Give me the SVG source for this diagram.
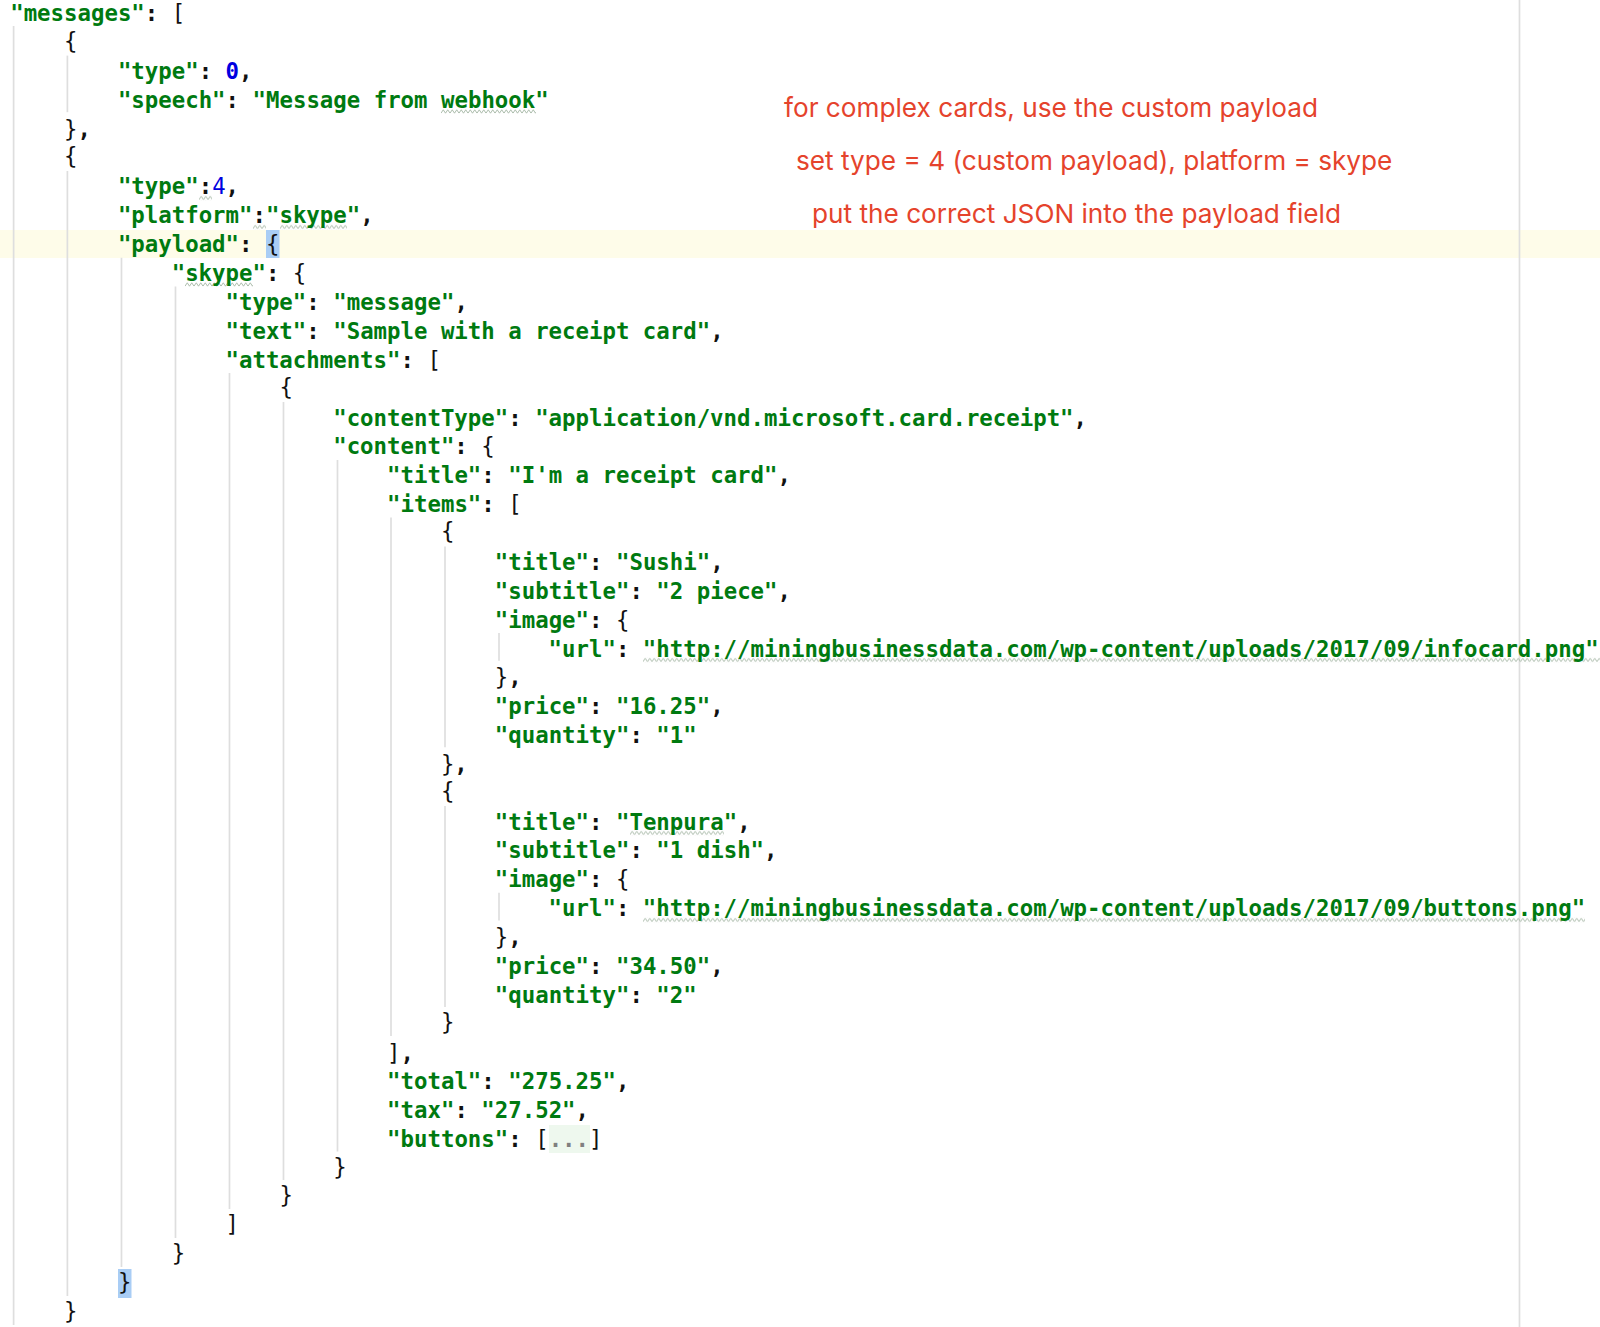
<svg xmlns="http://www.w3.org/2000/svg" width="1600" height="1327" viewBox="0 0 1600 1327">
<style>
text{white-space:pre}
text.b{transform:translateY(-1.5px)}
.c{font-family:"DejaVu Sans Mono","Liberation Mono",monospace;font-size:22.36px;fill:#111}
.k{font-weight:bold;fill:#007a10}
.p{font-weight:bold;fill:#111}
.b{fill:#111}
.n{fill:#0000e0}
.g{fill:#808080;font-weight:bold}
.a{font-family:Inter,"Liberation Sans",Arial,sans-serif;font-size:26.2px;fill:#e5432c}
.guide line{stroke:#dedede;stroke-width:1.7}
.sq{fill:url(#zig)}
</style>
<defs>
<pattern id="zig" width="9" height="5" patternUnits="userSpaceOnUse">
<path d="M0 4.2 L2.25 0.8 L4.5 4.2 L6.75 0.8 L9 4.2" fill="none" stroke="#a3b5a3" stroke-width="0.9"/>
</pattern>
</defs>
<rect width="1600" height="1327" fill="#fff"/>
<g id="highlights">
<rect x="0" y="230" width="1600" height="28" fill="#fefce9"/>
<rect x="266" y="230" width="13.5" height="28" fill="#a9cdf5"/>
<rect x="118" y="1269" width="13.5" height="29" fill="#a9cdf5"/>
<rect x="549" y="1125" width="41" height="28" fill="#eef8ee"/>
</g>
<g id="guides" class="guide">
<line x1="1519.5" y1="0" x2="1519.5" y2="1327"/>
<line x1="13.6" y1="26" x2="13.6" y2="1325"/>
<line x1="67.4" y1="55.6" x2="67.4" y2="112.2"/>
<line x1="67.4" y1="171" x2="67.4" y2="1296"/>
<line x1="121.5" y1="257.7" x2="121.5" y2="1267"/>
<line x1="175.5" y1="286.5" x2="175.5" y2="1238"/>
<line x1="229.5" y1="373" x2="229.5" y2="1209"/>
<line x1="283.5" y1="402" x2="283.5" y2="1180"/>
<line x1="337.5" y1="460" x2="337.5" y2="1151.5"/>
<line x1="391" y1="517.5" x2="391" y2="1036"/>
<line x1="445" y1="546.4" x2="445" y2="747.3"/>
<line x1="445" y1="806" x2="445" y2="1007"/>
<line x1="499" y1="633" x2="499" y2="660.7"/>
<line x1="499" y1="892.8" x2="499" y2="920.5"/>
</g>
<g id="squiggles">
<rect class="sq" transform="translate(441,109)" width="95" height="5"/>
<rect class="sq" transform="translate(199,195.5)" width="13" height="5"/>
<rect class="sq" transform="translate(253,224.5)" width="13" height="5"/>
<rect class="sq" transform="translate(280,224.5)" width="67" height="5"/>
<rect class="sq" transform="translate(185,282)" width="68" height="5"/>
<rect class="sq" transform="translate(643,657.5)" width="957" height="5"/>
<rect class="sq" transform="translate(630,830.5)" width="94" height="5"/>
<rect class="sq" transform="translate(643,917.5)" width="942" height="5"/>
</g>
<g id="code" class="c" transform="translate(-0.5,0.5)">
<text x="10.7" y="20.7"><tspan class="k">"messages"</tspan><tspan class="p">: </tspan><tspan class="b">[</tspan></text>
<text x="64.5" y="49.6" class="b">{</text>
<text x="118.4" y="78.4"><tspan class="k">"type"</tspan><tspan class="p">: </tspan><tspan class="n" font-weight="bold">0</tspan><tspan class="p">,</tspan></text>
<text x="118.4" y="107.3"><tspan class="k">"speech"</tspan><tspan class="p">: </tspan><tspan class="k">"Message from webhook"</tspan></text>
<text x="64.5" y="136.2"><tspan class="b">}</tspan><tspan class="p">,</tspan></text>
<text x="64.5" y="165" class="b">{</text>
<text x="118.4" y="193.9"><tspan class="k">"type"</tspan><tspan class="p">:</tspan><tspan class="n">4</tspan><tspan class="p">,</tspan></text>
<text x="118.4" y="222.8"><tspan class="k">"platform"</tspan><tspan class="p">:</tspan><tspan class="k">"skype"</tspan><tspan class="p">,</tspan></text>
<text x="118.4" y="251.7"><tspan class="k">"payload"</tspan><tspan class="p">: </tspan><tspan class="b">{</tspan></text>
<text x="172.2" y="280.5"><tspan class="k">"skype"</tspan><tspan class="p">: </tspan><tspan class="b">{</tspan></text>
<text x="226" y="309.4"><tspan class="k">"type"</tspan><tspan class="p">: </tspan><tspan class="k">"message"</tspan><tspan class="p">,</tspan></text>
<text x="226" y="338.3"><tspan class="k">"text"</tspan><tspan class="p">: </tspan><tspan class="k">"Sample with a receipt card"</tspan><tspan class="p">,</tspan></text>
<text x="226" y="367.1"><tspan class="k">"attachments"</tspan><tspan class="p">: </tspan><tspan class="b">[</tspan></text>
<text x="279.9" y="396" class="b">{</text>
<text x="333.7" y="425.4"><tspan class="k">"contentType"</tspan><tspan class="p">: </tspan><tspan class="k">"application/vnd.microsoft.card.receipt"</tspan><tspan class="p">,</tspan></text>
<text x="333.7" y="453.8"><tspan class="k">"content"</tspan><tspan class="p">: </tspan><tspan class="b">{</tspan></text>
<text x="387.6" y="482.6"><tspan class="k">"title"</tspan><tspan class="p">: </tspan><tspan class="k">"I'm a receipt card"</tspan><tspan class="p">,</tspan></text>
<text x="387.6" y="511.5"><tspan class="k">"items"</tspan><tspan class="p">: </tspan><tspan class="b">[</tspan></text>
<text x="441.4" y="540.4" class="b">{</text>
<text x="495.3" y="569.2"><tspan class="k">"title"</tspan><tspan class="p">: </tspan><tspan class="k">"Sushi"</tspan><tspan class="p">,</tspan></text>
<text x="495.3" y="598.1"><tspan class="k">"subtitle"</tspan><tspan class="p">: </tspan><tspan class="k">"2 piece"</tspan><tspan class="p">,</tspan></text>
<text x="495.3" y="627"><tspan class="k">"image"</tspan><tspan class="p">: </tspan><tspan class="b">{</tspan></text>
<text x="549.1" y="656.3"><tspan class="k">"url"</tspan><tspan class="p">: </tspan><tspan class="k">"http://miningbusinessdata.com/wp-content/uploads/2017/09/infocard.png"</tspan></text>
<text x="495.3" y="684.7"><tspan class="b">}</tspan><tspan class="p">,</tspan></text>
<text x="495.3" y="713.6"><tspan class="k">"price"</tspan><tspan class="p">: </tspan><tspan class="k">"16.25"</tspan><tspan class="p">,</tspan></text>
<text x="495.3" y="742.5"><tspan class="k">"quantity"</tspan><tspan class="p">: </tspan><tspan class="k">"1"</tspan></text>
<text x="441.4" y="771.3"><tspan class="b">}</tspan><tspan class="p">,</tspan></text>
<text x="441.4" y="800.2" class="b">{</text>
<text x="495.3" y="829.1"><tspan class="k">"title"</tspan><tspan class="p">: </tspan><tspan class="k">"Tenpura"</tspan><tspan class="p">,</tspan></text>
<text x="495.3" y="857.9"><tspan class="k">"subtitle"</tspan><tspan class="p">: </tspan><tspan class="k">"1 dish"</tspan><tspan class="p">,</tspan></text>
<text x="495.3" y="886.8"><tspan class="k">"image"</tspan><tspan class="p">: </tspan><tspan class="b">{</tspan></text>
<text x="549.1" y="915.7"><tspan class="k">"url"</tspan><tspan class="p">: </tspan><tspan class="k">"http://miningbusinessdata.com/wp-content/uploads/2017/09/buttons.png"</tspan></text>
<text x="495.3" y="944.5"><tspan class="b">}</tspan><tspan class="p">,</tspan></text>
<text x="495.3" y="973.4"><tspan class="k">"price"</tspan><tspan class="p">: </tspan><tspan class="k">"34.50"</tspan><tspan class="p">,</tspan></text>
<text x="495.3" y="1002.3"><tspan class="k">"quantity"</tspan><tspan class="p">: </tspan><tspan class="k">"2"</tspan></text>
<text x="441.4" y="1031.2" class="b">}</text>
<text x="387.6" y="1060"><tspan class="b">]</tspan><tspan class="p">,</tspan></text>
<text x="387.6" y="1088.9"><tspan class="k">"total"</tspan><tspan class="p">: </tspan><tspan class="k">"275.25"</tspan><tspan class="p">,</tspan></text>
<text x="387.6" y="1117.8"><tspan class="k">"tax"</tspan><tspan class="p">: </tspan><tspan class="k">"27.52"</tspan><tspan class="p">,</tspan></text>
<text x="387.6" y="1146.6"><tspan class="k">"buttons"</tspan><tspan class="p">: </tspan><tspan class="b">[</tspan><tspan class="g">...</tspan><tspan class="b">]</tspan></text>
<text x="333.7" y="1175.5" class="b">}</text>
<text x="279.9" y="1204.4" class="b">}</text>
<text x="226" y="1233.2" class="b">]</text>
<text x="172.2" y="1262.1" class="b">}</text>
<text x="118.4" y="1291" class="b">}</text>
<text x="64.5" y="1319.9" class="b">}</text>
</g>
<g id="notes">
<text class="a" x="784" y="117">for complex cards, use the custom payload</text>
<text class="a" x="796" y="170">set type = 4 (custom payload), platform = skype</text>
<text class="a" x="812" y="223">put the correct JSON into the payload field</text>
</g>
</svg>
